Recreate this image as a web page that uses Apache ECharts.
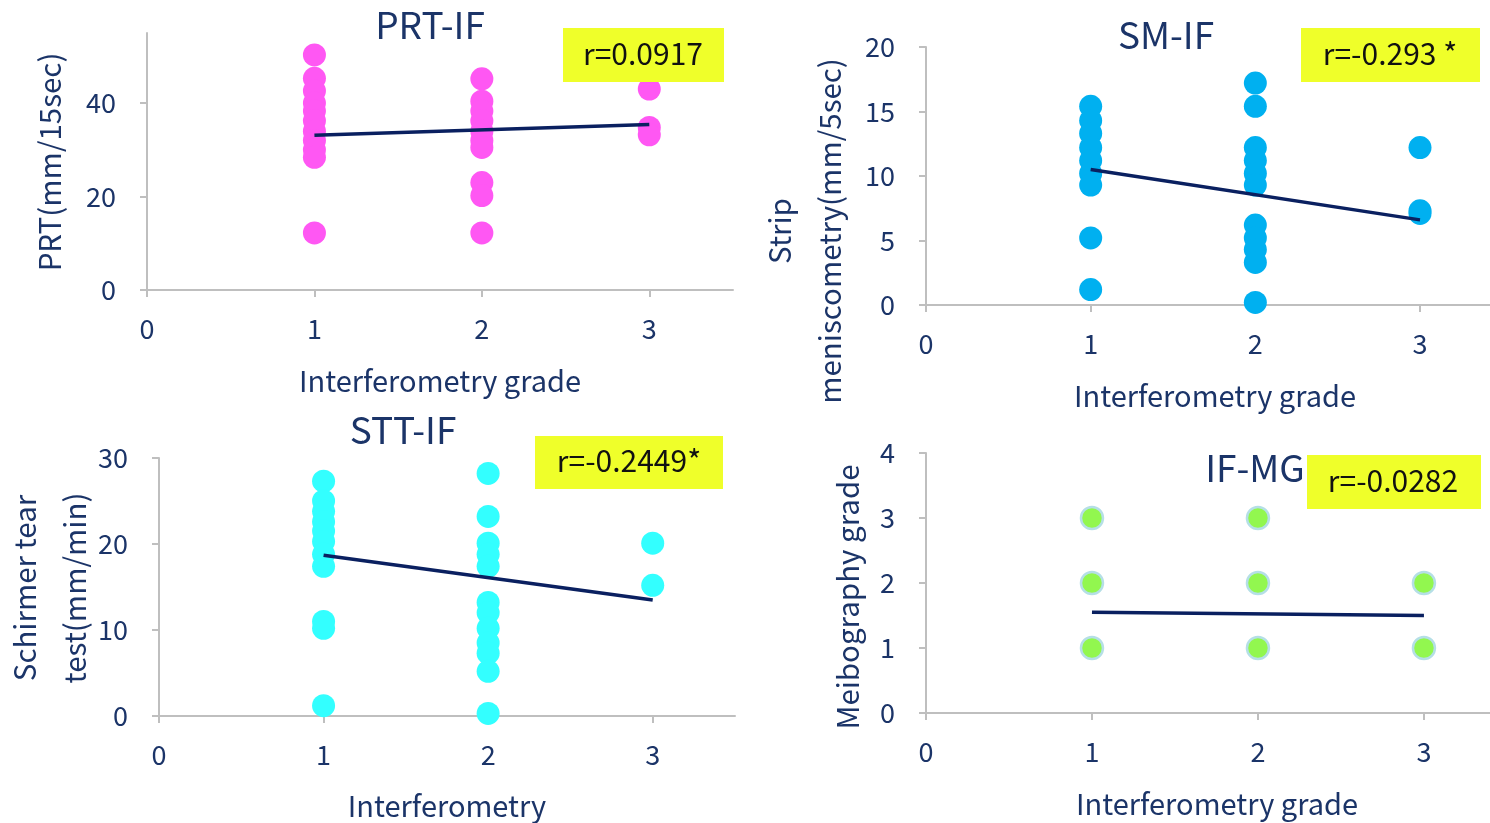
<!DOCTYPE html>
<html>
<head>
<meta charset="utf-8">
<script src="https://cdn.jsdelivr.net/npm/echarts@6/dist/echarts.min.js"></script>
<style>html,body{margin:0;padding:0;background:#fff;}#c{width:1490px;height:823px;}</style>
</head>
<body>
<div id="c"></div>
<script>
// ---- data ----
const xTicks = [0, 1, 2, 3];
const trendX = [1, 3];

const prtG1 = [50.3, 45.3, 42.6, 40, 38.3, 36.2, 34, 32, 30, 28.4, 12.2];
const prtG2 = [45.2, 40.4, 38.3, 36.2, 34, 32, 30.5, 23, 20.2, 12.2];
const prtG3 = [43, 34.8, 33.2];
const prtTrend = [33.1, 35.4];
const prtTicks = [0, 20, 40];

const smG1 = [15.4, 14.3, 13.3, 12.2, 11.2, 10.2, 9.3, 5.2, 1.2];
const smG2 = [17.2, 15.4, 12.2, 11.2, 10.2, 9.3, 6.2, 5.2, 4.3, 3.3, 0.2];
const smG3 = [12.2, 7.3, 7.1];
const smTrend = [10.5, 6.6];
const smTicks = [0, 5, 10, 15, 20];

const sttG1 = [27.3, 25, 23.8, 22.6, 21.5, 20.3, 18.8, 17.4, 11, 10.2, 1.2];
const sttG2 = [28.2, 23.2, 20.1, 18.8, 17.4, 13.2, 12, 10.2, 8.5, 7.3, 5.2, 0.3];
const sttG3 = [20.1, 15.2];
const sttTrend = [18.7, 13.5];
const sttTicks = [0, 10, 20, 30];

const mgG1 = [3, 2, 1];
const mgG2 = [3, 2, 1];
const mgG3 = [2, 1];
const mgTrend = [1.55, 1.5];
const mgTicks = [0, 1, 2, 3, 4];

// ---- styling ----
const FONT = '"Noto Sans CJK JP", "Noto Sans", sans-serif';
const NAVY = '#1B3468';
const AXIS = '#BFBFBF';
const LINE = '#0A2060';
const YEL = '#EFFF2A';

function pts(g1, g2, g3) {
  const out = [];
  g1.forEach(v => out.push([1, v]));
  g2.forEach(v => out.push([2, v]));
  g3.forEach(v => out.push([3, v]));
  return out;
}

const panels = [
  {grid: {left: 147, top: 33, width: 586, height: 257}, xmax: 3.5, ymax: 55, yTicks: prtTicks, data: pts(prtG1, prtG2, prtG3), trend: prtTrend, color: '#FF57F3', size: 23},
  {grid: {left: 926, top: 47, width: 564, height: 258}, xmax: 3.425, ymax: 20, yTicks: smTicks, data: pts(smG1, smG2, smG3), trend: smTrend, color: '#00B0F0', size: 23},
  {grid: {left: 159, top: 458, width: 576, height: 258}, xmax: 3.5, ymax: 30, yTicks: sttTicks, data: pts(sttG1, sttG2, sttG3), trend: sttTrend, color: '#33FFFF', size: 23},
  {grid: {left: 926, top: 453, width: 564, height: 260}, xmax: 3.398, ymax: 4, yTicks: mgTicks, data: pts(mgG1, mgG2, mgG3), trend: mgTrend, color: '#92F74F', size: 22, border: '#B5DFE6'}
];

const grid = [], xAxis = [], yAxis = [], series = [];
panels.forEach((p, i) => {
  grid.push(p.grid);
  xAxis.push({
    type: 'value', gridIndex: i, min: 0, max: p.xmax, interval: 1,
    axisLine: {show: true, onZero: false, lineStyle: {color: AXIS, width: 2}},
    axisTick: {show: true, length: 7, lineStyle: {color: AXIS, width: 2}, customValues: xTicks},
    axisLabel: {customValues: xTicks, margin: 25, color: NAVY, fontSize: 27, fontFamily: FONT},
    splitLine: {show: false}
  });
  yAxis.push({
    type: 'value', gridIndex: i, min: 0, max: p.ymax,
    axisLine: {show: true, onZero: false, lineStyle: {color: AXIS, width: 2}},
    axisTick: {show: true, length: 7, lineStyle: {color: AXIS, width: 2}, customValues: p.yTicks},
    axisLabel: {customValues: p.yTicks, margin: 31, color: NAVY, fontSize: 27, fontFamily: FONT},
    splitLine: {show: false}
  });
  series.push({
    type: 'scatter', xAxisIndex: i, yAxisIndex: i, data: p.data,
    symbolSize: p.size,
    itemStyle: p.border ? {color: p.color, borderColor: p.border, borderWidth: 2.5, opacity: 1} : {color: p.color, opacity: 1},
    emphasis: {disabled: true}, z: 2
  });
  series.push({
    type: 'line', xAxisIndex: i, yAxisIndex: i,
    data: trendX.map((x, k) => [x, p.trend[k]]),
    symbol: 'none', lineStyle: {color: LINE, width: 3.5}, z: 3, silent: true
  });
});

function txt(x, y, text, size, color, rot) {
  return {
    type: 'text', x: x, y: y, rotation: rot ? Math.PI / 2 : 0, z: 10,
    style: {text: text, fill: color, font: size + 'px ' + FONT,
      textAlign: 'center', textVerticalAlign: 'middle', align: 'center', verticalAlign: 'middle'}
  };
}
function box(x, y, w, h) {
  return {type: 'rect', z: 11, shape: {x: x, y: y, width: w, height: h}, style: {fill: YEL}};
}
function rtxt(x, y, text) {
  const t = txt(x, y, text, 30, '#111111', false);
  t.z = 12;
  return t;
}

const graphic = [
  // titles
  txt(430, 25, 'PRT-IF', 37, NAVY),
  txt(1166, 35, 'SM-IF', 37, NAVY),
  txt(403, 430, 'STT-IF', 37, NAVY),
  txt(1255, 468, 'IF-MG', 37, NAVY),
  // r boxes
  box(563, 28, 161, 54), rtxt(643, 54, 'r=0.0917'),
  box(1301, 28, 179, 54), rtxt(1390, 54, 'r=-0.293 *'),
  box(535, 436, 188, 53), rtxt(629, 461, 'r=-0.2449*'),
  box(1307, 455, 174, 54), rtxt(1393, 481, 'r=-0.0282'),
  // x-axis names
  txt(440, 381, 'Interferometry grade', 29, NAVY),
  txt(1215, 396, 'Interferometry grade', 29, NAVY),
  txt(447, 806, 'Interferometry', 29, NAVY),
  txt(1217, 804, 'Interferometry grade', 29, NAVY),
  // y-axis names
  txt(50, 162, 'PRT(mm/15sec)', 29.5, NAVY, true),
  txt(780, 231, 'Strip', 29.5, NAVY, true),
  txt(830, 231, 'meniscometry(mm/5sec)', 29.5, NAVY, true),
  txt(25, 588, 'Schirmer tear', 29.5, NAVY, true),
  txt(75, 588, 'test(mm/min)', 29.5, NAVY, true),
  txt(848, 597, 'Meibography grade', 29.5, NAVY, true)
];

const chart = echarts.init(document.getElementById('c'), null, {renderer: 'canvas'});
chart.setOption({
  animation: false,
  backgroundColor: '#ffffff',
  grid: grid, xAxis: xAxis, yAxis: yAxis, series: series, graphic: graphic
});
</script>
</body>
</html>
